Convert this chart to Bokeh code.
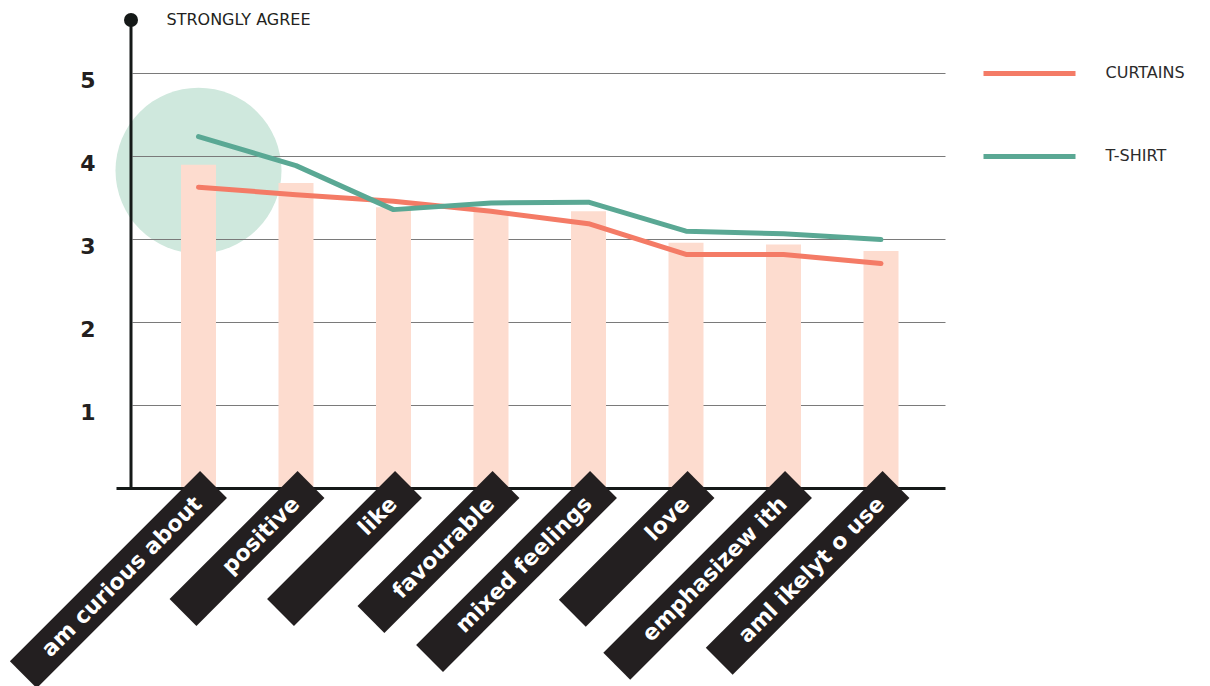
import math
from bokeh.plotting import figure
from bokeh.models import Range1d
from bokeh.core.properties import value
from bokeh.embed import file_html
from bokeh.resources import INLINE

# ---------------- data ----------------
categories = ["am curious about", "positive", "like", "favourable",
              "mixed feelings", "love", "emphasizew ith", "aml ikelyt o use"]
bar_values = [3.90, 3.68, 3.39, 3.33, 3.34, 2.96, 2.94, 2.86]
curtains = [3.63, 3.54, 3.46, 3.34, 3.19, 2.82, 2.82, 2.71]
tshirt = [4.24, 3.89, 3.36, 3.44, 3.45, 3.10, 3.07, 3.00]
y_ticks = [1, 2, 3, 4, 5]
y_top = 5.645          # end of the scale ("strongly agree")
highlight_value = 3.83  # centre of the highlight circle on the first item
series_names = ["CURTAINS", "T-SHIRT"]

# ---------------- layout / style ----------------
W, H = 1210, 686
PX_X, X0_PX = 97.5, 198.0   # pixels per category, pixel of first category
PX_Y, Y0_PX = 83.0, 488.0   # pixels per unit, pixel of value 0
box_len = [269, 181, 181, 191, 246, 182, 257, 250]  # label box lengths (px)
BOX_T = 38
DARK = "#231f20"
ORANGE = "#f47b66"
GREEN = "#5aa894"
BAR = "#fddccf"
CIRCLE = "#cfe8dd"
FONT = "DejaVu Sans"

def dx(px):
    return px / PX_X

def dy(px):
    return px / PX_Y

def xpx(px):
    return (px - X0_PX) / PX_X

x_range = Range1d(-X0_PX / PX_X, (W - X0_PX) / PX_X)
y_range = Range1d(-(H - Y0_PX) / PX_Y, Y0_PX / PX_Y)

p = figure(width=W, height=H, x_range=x_range, y_range=y_range,
           x_axis_type=None, y_axis_type=None, toolbar_location=None,
           output_backend="svg", min_border=0, outline_line_color=None,
           background_fill_color="white", border_fill_color="white")
p.xgrid.visible = False
p.ygrid.visible = False

idx = list(range(len(categories)))

# highlight circle
p.scatter(x=[0], y=[highlight_value], size=166, marker="circle",
          fill_color=CIRCLE, line_color=None)

# grid lines
p.segment(x0=[xpx(132)] * len(y_ticks), y0=y_ticks,
          x1=[xpx(945)] * len(y_ticks), y1=y_ticks,
          line_color="#7a7a7a", line_width=1)

# bars
p.vbar(x=idx, top=bar_values, bottom=0, width=dx(35),
       fill_color=BAR, line_color=None)

# axes
ax_x = xpx(130.5)
p.segment(x0=[ax_x], y0=[0], x1=[ax_x], y1=[y_top], line_color="#151918", line_width=3)
p.segment(x0=[xpx(116)], y0=[0], x1=[xpx(945)], y1=[0], line_color="#151918", line_width=3)
p.scatter(x=[ax_x], y=[y_top], size=14, marker="circle", fill_color="#151918", line_color=None)

# y tick labels
p.text(x=[xpx(95)] * len(y_ticks), y=y_ticks, text=[str(t) for t in y_ticks],
       text_align="right", text_baseline="middle", y_offset=6,
       text_font=value(FONT), text_font_style="bold", text_font_size="22px",
       text_color=DARK)

p.text(x=[xpx(166)], y=[y_top], text=["STRONGLY AGREE"], text_align="left",
       text_baseline="middle", text_font=value(FONT), text_font_size="16px",
       text_color=DARK)

# series lines
p.line(idx, curtains, line_color=ORANGE, line_width=5, line_cap="round", line_join="round")
p.line(idx, tshirt, line_color=GREEN, line_width=5, line_cap="round", line_join="round")

# legend (manual)
for val, name, col in zip([5, 4], series_names, [ORANGE, GREEN]):
    p.segment(x0=[xpx(983)], y0=[val], x1=[xpx(1075)], y1=[val], line_color=col, line_width=5)
    p.text(x=[xpx(1105)], y=[val], text=[name], text_align="left", text_baseline="middle",
           y_offset=-1, text_font=value(FONT), text_font_size="16px", text_color="#2b2b2b")

# rotated label boxes
c = math.cos(math.pi / 4)
bx, by, tx, ty = [], [], [], []
for i, L in zip(idx, box_len):
    xt = i + dx(15)
    yt = dy(4)
    bx.append(xt - dx(L / 2 * c))
    by.append(yt - dy(L / 2 * c))
    tx.append(xt - dx(22 * c))
    ty.append(yt - dy(22 * c))

p.rect(x=bx, y=by, width=box_len, height=BOX_T, width_units="screen",
       height_units="screen", angle=math.pi / 4, fill_color=DARK, line_color=None)
p.text(x=tx, y=ty, text=categories, angle=math.pi / 4, text_align="right",
       text_baseline="middle", text_font=value(FONT), text_font_style="bold",
       text_font_size="22px", text_color="white")

open("out.html", "w").write(file_html(p, INLINE))
